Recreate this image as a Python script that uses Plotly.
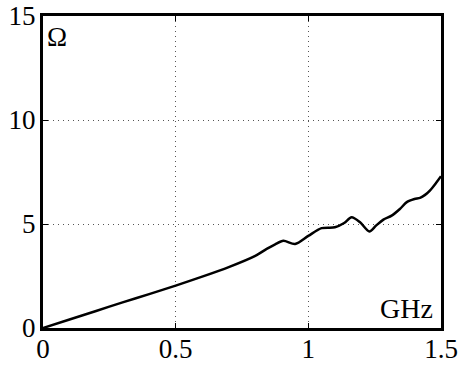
import plotly.graph_objects as go

# impedance magnitude vs frequency
freq_ghz = [0.0, 0.1, 0.2, 0.3, 0.4, 0.5, 0.6, 0.7, 0.8, 0.843, 0.875, 0.906, 0.95,
            1.0, 1.05, 1.10, 1.135, 1.163, 1.195, 1.23, 1.255, 1.283, 1.314, 1.345,
            1.371, 1.40, 1.421, 1.44, 1.459, 1.48, 1.5]
impedance_ohm = [0.0, 0.41, 0.82, 1.23, 1.63, 2.04, 2.47, 2.93, 3.47, 3.80, 4.02, 4.19,
                 4.04, 4.43, 4.80, 4.84, 5.05, 5.32, 5.08, 4.64, 4.92, 5.21, 5.40,
                 5.72, 6.05, 6.20, 6.26, 6.40, 6.62, 6.95, 7.30]

x_ticks = [0, 0.5, 1, 1.5]
x_labels = ["0", "0.5", "1", "1.5"]
y_ticks = [0, 5, 10, 15]
y_labels = ["0", "5", "10", "15"]

font_family = "Liberation Serif"

fig = go.Figure()
fig.add_trace(go.Scatter(
    x=freq_ghz, y=impedance_ohm, mode="lines",
    line=dict(color="black", width=2.5, shape="spline", smoothing=0.8),
    showlegend=False, hoverinfo="skip",
))

axis_common = dict(
    showline=True, linecolor="black", linewidth=3, mirror="ticks",
    ticks="inside", ticklen=5, tickcolor="black", tickwidth=1,
    showgrid=True, gridcolor="#555555", griddash="1px,4px", gridwidth=1,
    zeroline=False, automargin=False,
    tickfont=dict(family=font_family, size=27, color="black"),
)

fig.update_xaxes(range=[0, 1.5], tickvals=x_ticks, ticktext=x_labels,
                 ticklabelstandoff=-5, **axis_common)
fig.update_yaxes(range=[0, 15], tickvals=y_ticks, ticktext=y_labels,
                 ticklabelstandoff=-1, **axis_common)

fig.add_annotation(x=0, y=1, xref="paper", yref="paper", text="Ω", showarrow=False,
                   xanchor="left", yanchor="top", xshift=2, yshift=-4,
                   font=dict(family=font_family, size=27, color="black"))
fig.add_annotation(x=1, y=0, xref="paper", yref="paper", text="GHz", showarrow=False,
                   xanchor="right", yanchor="bottom", xshift=-6, yshift=2,
                   font=dict(family=font_family, size=28, color="black"))

fig.update_layout(
    width=464, height=369,
    margin=dict(l=43, r=23, t=16, b=41),
    plot_bgcolor="white", paper_bgcolor="white",
)

fig.write_html("out.html")
